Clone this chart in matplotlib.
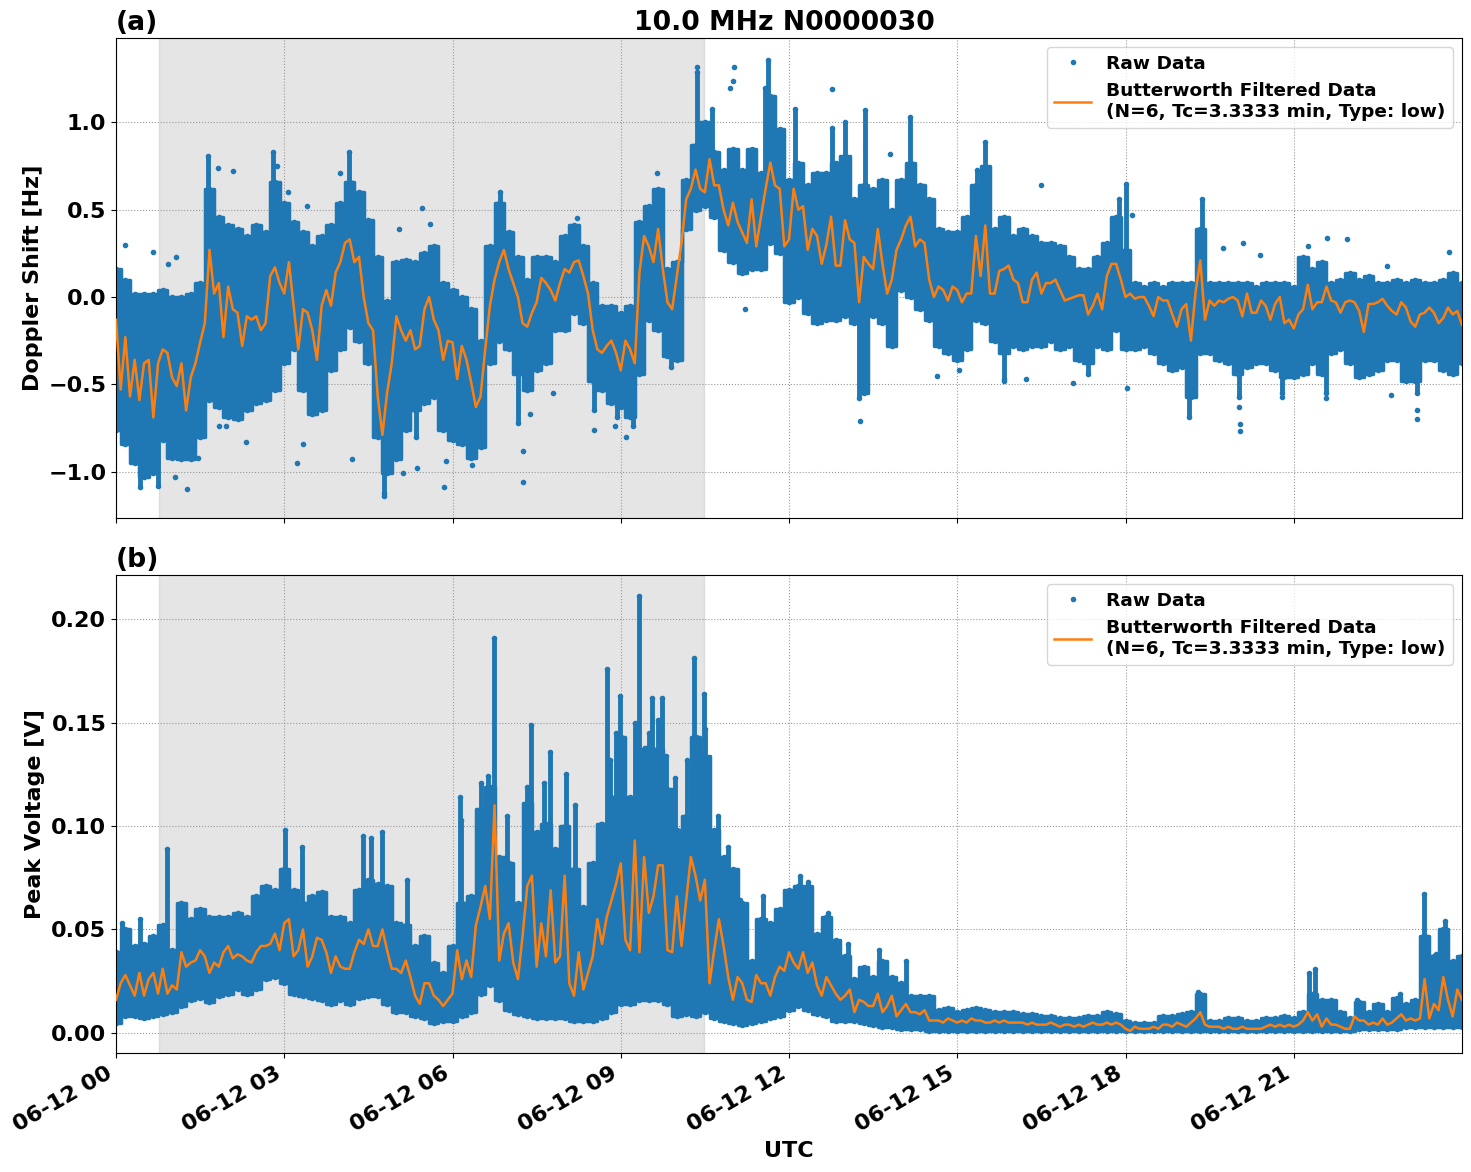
import numpy as np
import pandas as pd
import matplotlib
matplotlib.use("Agg")
import matplotlib.pyplot as plt
import matplotlib.dates as mdates

# values, raw envelope one sample every 10 minutes
doppler_hi = [
    .16, .10, .02, .02, .02, .04, 0, 0, .02, .08, .62, .46,
    .41, .39, .35, .41, .37, .66, .54, .43, .37, .29, .35, .41,
    .54, .66, .60, .44, .23, -.02, .20, .21, .20, .25, .29, .08,
    .04, 0, -.07, -.25, .29, .54, .37, .23, .10, .23, .23, .20,
    .35, .41, .29, .08, -.05, -.05, -.09, -.05, .43, .52, .62, .16,
    .20, .67, .87, 1.0, .83, .73, .85, .73, .85, .71, 1.15, .96,
    .67, .77, .64, .71, .71, .77, .81, .56, .64, .62, .67, .50,
    .67, .77, .64, .56, .39, .37, .37, .46, .64, .75, .39, .46,
    .35, .39, .35, .31, .31, .29, .23, .16, .16, .23, .31, .46,
    .27, .08, .06, .08, .06, .08, .08, .08, .39, .08, .08, .08,
    .08, .08, .06, .08, .08, .08, .06, .23, .16, .20, .08, .10,
    .14, .10, .12, .08, .08, .10, .08, .10, .08, .08, .10, .14,
    .08]
doppler_lo = [
    -.76, -.84, -.95, -1.03, -1.01, -.82, -.92, -.93, -.93, -.80, -.59, -.63,
    -.69, -.70, -.65, -.61, -.59, -.53, -.38, -.30, -.53, -.67, -.65, -.42,
    -.30, -.17, -.25, -.38, -.80, -1.01, -.93, -.76, -.65, -.61, -.57, -.76,
    -.82, -.84, -.92, -.86, -.38, -.25, -.30, -.44, -.53, -.42, -.38, -.19,
    -.19, -.09, -.15, -.48, -.53, -.61, -.63, -.69, -.44, -.13, -.19, -.34,
    -.36, .39, .50, .52, .46, .27, .20, .14, .16, .16, .31, .25,
    -.03, 0, -.09, -.15, -.13, -.13, -.11, -.15, -.55, -.11, -.15, -.28,
    .04, 0, -.07, -.13, -.28, -.32, -.36, -.30, -.13, -.15, -.25, -.32,
    -.28, -.30, -.28, -.28, -.25, -.30, -.28, -.36, -.38, -.28, -.30, -.19,
    -.30, -.30, -.28, -.32, -.38, -.42, -.40, -.57, -.32, -.32, -.36, -.38,
    -.44, -.40, -.38, -.38, -.42, -.46, -.46, -.44, -.38, -.44, -.32, -.30,
    -.38, -.46, -.44, -.42, -.36, -.36, -.48, -.48, -.36, -.36, -.42, -.44,
    -.38]

# filtered line, one sample every 5 minutes, 12 per row = one hour
doppler_filt = [
    -.13, -.53, -.23, -.57, -.36, -.59, -.38, -.36, -.69, -.38, -.30, -.32,
    -.46, -.51, -.38, -.65, -.46, -.38, -.26, -.15, .27, .02, .08, -.23,
    .06, -.07, -.09, -.28, -.11, -.13, -.11, -.19, -.15, .12, .17, .08,
    .02, .20, -.05, -.30, -.07, -.09, -.19, -.36, -.05, .04, -.05, .14,
    .20, .31, .33, .20, .23, 0, -.15, -.19, -.57, -.79, -.55, -.38,
    -.11, -.19, -.25, -.19, -.30, -.28, -.07, 0, -.13, -.19, -.36, -.25,
    -.26, -.47, -.28, -.36, -.49, -.63, -.57, -.30, -.05, .10, .20, .27,
    .16, .08, 0, -.15, -.17, -.09, -.03, .11, .08, .04, -.02, .08,
    .16, .14, .20, .21, .12, .02, -.19, -.30, -.32, -.28, -.25, -.32,
    -.42, -.25, -.30, -.38, .14, .35, .29, .20, .39, .16, -.03, -.07,
    .12, .31, .56, .62, .73, .62, .60, .79, .64, .64, .50, .41,
    .54, .43, .37, .31, .56, .29, .46, .62, .77, .64, .62, .29,
    .33, .62, .50, .52, .27, .39, .35, .19, .30, .46, .18, .18,
    .44, .33, .31, -.03, .23, .19, .16, .39, .19, .02, .10, .27,
    .33, .41, .46, .29, .33, .31, .10, 0, .06, .04, -.02, .06,
    .04, -.03, .02, .02, .35, .12, .41, .02, .02, .15, .16, .18,
    .10, .08, -.03, -.03, .10, .14, .02, .08, .08, .10, .04, -.02,
    -.01, 0, .01, .01, -.10, -.05, .02, -.07, .12, .19, .19, .10,
    0, .02, -.01, 0, 0, -.05, -.11, 0, -.02, -.02, -.10, -.17,
    -.07, -.04, -.25, .03, .21, -.13, -.02, -.05, -.02, -.03, -.01, 0,
    -.02, -.11, .02, -.09, -.09, -.02, -.05, -.13, -.04, 0, -.15, -.13,
    -.18, -.10, -.07, .07, -.07, -.03, -.03, .06, -.02, -.03, -.09, -.03,
    -.02, -.03, -.08, -.20, -.04, -.04, -.03, -.01, -.05, -.08, -.10, -.03,
    -.06, -.14, -.17, -.10, -.09, -.06, -.09, -.15, -.12, -.06, -.10, -.08,
    -.16]

voltage_hi = [
    .039, .050, .042, .043, .047, .052, .040, .063, .055, .060, .056, .056,
    .056, .058, .056, .066, .071, .069, .079, .069, .063, .066, .068, .056,
    .056, .053, .069, .074, .072, .071, .053, .052, .042, .047, .034, .029,
    .042, .063, .066, .108, .119, .085, .082, .063, .111, .097, .101, .089,
    .100, .079, .061, .082, .101, .114, .143, .114, .137, .138, .137, .118,
    .098, .105, .143, .134, .098, .085, .079, .063, .035, .055, .053, .060,
    .069, .071, .071, .048, .056, .045, .037, .026, .032, .027, .035, .027,
    .024, .018, .018, .018, .011, .012, .010, .011, .012, .011, .010, .010,
    .010, .009, .009, .008, .008, .007, .007, .007, .008, .008, .010, .009,
    .006, .005, .005, .005, .008, .008, .009, .010, .019, .006, .006, .007,
    .007, .006, .006, .007, .007, .008, .007, .010, .019, .016, .016, .010,
    .007, .015, .010, .014, .010, .017, .014, .016, .047, .037, .050, .035,
    .037]
voltage_lo = [
    .005, .008, .008, .007, .008, .009, .010, .013, .016, .017, .015, .018,
    .019, .021, .019, .021, .026, .027, .024, .019, .018, .017, .016, .014,
    .016, .014, .017, .018, .018, .014, .010, .010, .008, .007, .005, .006,
    .006, .008, .010, .019, .023, .016, .011, .009, .008, .007, .007, .007,
    .007, .006, .006, .006, .007, .010, .014, .014, .016, .016, .016, .014,
    .008, .009, .008, .010, .007, .006, .005, .004, .005, .006, .007, .008,
    .011, .013, .011, .009, .008, .006, .006, .006, .005, .004, .003, .003,
    .002, .002, .002, .001, .001, .001, .001, .001, .001, .001, .001, .001,
    .001, .001, .001, .001, .001, .001, .001, .001, .001, .001, .001, .001,
    .001, .001, .001, .001, .001, .001, .001, .001, .001, .001, .001, .001,
    .001, .001, .001, .001, .001, .001, .001, .001, .001, .001, .001, .001,
    .001, .002, .002, .002, .002, .002, .003, .003, .003, .003, .003, .003,
    .003]
voltage_filt = [
    .016, .024, .028, .023, .018, .029, .018, .026, .029, .019, .031, .019,
    .023, .021, .039, .032, .034, .035, .040, .037, .029, .034, .032, .039,
    .042, .036, .038, .037, .035, .034, .039, .042, .042, .043, .048, .040,
    .053, .055, .037, .040, .050, .032, .037, .046, .045, .039, .029, .037,
    .032, .031, .031, .039, .045, .043, .050, .042, .042, .050, .040, .031,
    .031, .029, .035, .027, .018, .014, .024, .024, .018, .016, .013, .016,
    .019, .040, .026, .035, .027, .052, .061, .071, .055, .110, .035, .048,
    .053, .034, .026, .047, .071, .076, .032, .053, .037, .069, .034, .037,
    .076, .024, .018, .039, .021, .029, .037, .055, .043, .056, .064, .072,
    .082, .045, .040, .093, .039, .085, .058, .066, .081, .081, .040, .039,
    .066, .042, .064, .085, .076, .064, .074, .024, .040, .055, .042, .027,
    .016, .027, .024, .016, .015, .028, .024, .024, .018, .027, .032, .030,
    .039, .034, .031, .039, .029, .034, .023, .018, .027, .023, .019, .016,
    .018, .021, .010, .016, .015, .013, .013, .019, .010, .013, .018, .008,
    .011, .014, .010, .010, .009, .011, .006, .006, .006, .005, .007, .006,
    .005, .006, .005, .007, .006, .006, .005, .005, .006, .005, .006, .005,
    .005, .005, .005, .004, .005, .004, .004, .004, .005, .004, .003, .004,
    .004, .003, .004, .003, .004, .005, .004, .004, .005, .004, .005, .004,
    .002, .001, .003, .002, .002, .002, .003, .002, .004, .004, .003, .005,
    .004, .003, .005, .007, .010, .004, .003, .003, .003, .002, .003, .002,
    .002, .003, .002, .002, .002, .002, .003, .004, .003, .004, .003, .004,
    .003, .004, .006, .010, .006, .009, .003, .007, .004, .004, .003, .002,
    .002, .008, .006, .006, .004, .005, .004, .007, .004, .005, .007, .009,
    .006, .007, .006, .007, .026, .007, .014, .011, .027, .016, .008, .021,
    .016]

# narrow streaks that rise out of the dense band
doppler_streak_t = [1.64, 2.8, 4.15, 6.84, 10.36, 10.62, 11.63, 11.58, 12.1, 12.77, 13.0, 13.35, 14.16, 15.5, 15.36,
                    13.25, 19.36, 19.14, 17.88, 18.0, 4.77, 0.43, 0.75, 9.9, 7.17, 8.53, 8.94, 9.22, 5.35,
                    15.83, 17.34, 20.02, 21.58, 20.79, 23.2]
doppler_streak_v = [.81, .83, .83, .60, 1.29, 1.08, 1.36, 1.2, 1.08, .97, 1.0, 1.07, 1.03, .89, .73,
                    -.58, .56, -.69, .56, .65, -1.14, -1.09, -1.08, -.40, -.72, -.65, -.69, -.74, -.80,
                    -.47, -.44, -.57, -.55, -.55, -.55]
doppler_out_t = [.16, .66, .93, 1.07, 1.82, 2.09, 2.87, 3.06, 3.40, 3.99, 5.04, 5.45, 5.59, 8.22, 9.65, 10.36,
                 11.02, 11.0, 10.94, 13.8, 16.49, 18.12, 19.74, 20.09, 20.4, 21.59, 21.95, 21.26, 22.67, 23.77,
                 1.26, 1.05, 1.47, 1.84, 1.96, 2.31, 3.23, 3.33, 4.2, 4.77, 5.12, 5.37, 5.84, 5.89, 6.34, 7.25, 7.25,
                 7.39, 7.79, 8.53, 9.09, 8.9, 11.22, 13.26, 14.64, 15.03, 15.83, 16.23, 17.07, 18.02, 20.02, 20.04,
                 20.04, 21.58, 20.79, 23.2, 23.2, 22.73, 12.77]
doppler_out_v = [.30, .26, .19, .23, .74, .72, .75, .60, .52, .71, .39, .51, .42, .45, .71, 1.32,
                 1.32, 1.24, 1.2, .82, .64, .47, .28, .31, .24, .34, .33, .29, .18, .26,
                 -1.10, -1.03, -.92, -.74, -.74, -.83, -.95, -.84, -.93, -1.12, -1.01, -.98, -1.09, -.94, -.96, -1.06,
                 -.88, -.67, -.55, -.76, -.80, -.74, -.07, -.71, -.45, -.42, -.48, -.47, -.49, -.52, -.63, -.73,
                 -.77, -.58, -.57, -.65, -.70, -.56, 1.19]

voltage_streak_t = [.91, .10, .43, 3.01, 3.32, 4.41, 4.54, 4.75, 5.18, 6.14, 6.74, 7.40, 7.74, 8.02, 8.19, 8.76,
                    8.99, 9.33, 9.56, 9.74, 10.31, 10.49, 10.74, 11.12, 11.53, 12.19, 12.34, 12.7, 13.06, 13.6, 14.08,
                    19.3, 21.37, 21.28, 23.33, 23.7, 23.53, 22.9, 22.13,
                    6.63, 6.51, 6.98, 7.33, 7.64, 7.95, 8.65, 8.81, 8.92, 9.26, 9.50, 9.67, 9.96, 10.18, 10.50, 10.92,
                    9.81, 6.16]
voltage_streak_v = [.089, .053, .055, .098, .090, .095, .094, .097, .074, .114, .191, .149, .136, .125, .110, .176,
                    .163, .211, .162, .162, .181, .164, .105, .064, .066, .076, .073, .058, .043, .040, .035,
                    .020, .031, .029, .067, .054, .038, .019, .016,
                    .124, .121, .105, .119, .121, .098, .101, .132, .145, .150, .145, .151, .123, .132, .147, .090,
                    .134, .103]

tick_hours = [0, 3, 6, 9, 12, 15, 18, 21]
doppler_ticks = [-1.0, -0.5, 0.0, 0.5, 1.0]
voltage_ticks = [0.00, 0.05, 0.10, 0.15, 0.20]

BLUE = "tab:blue"
ORANGE = "tab:orange"
BASE = pd.Timestamp("2024-06-12")
W, H = 1471, 1172
FILTER_LABEL = "Butterworth Filtered Data\n(N=6, Tc=3.3333 min, Type: low)"


def to_time(hours):
    return BASE + pd.to_timedelta(np.asarray(hours, dtype=float), unit="h")


def panel(ax, hi, lo, filt, streak_t, streak_v, out_t=(), out_v=()):
    times = to_time(np.arange(len(hi)) / 6)
    filt_times = to_time(np.arange(len(filt)) / 12)
    filt = np.array(filt)

    ax.axvspan(to_time(0.76), to_time(10.49), color="0.5", alpha=0.2, zorder=0)
    ax.fill_between(times, lo, hi, step="mid", color=BLUE, lw=2.5, zorder=2)
    ax.plot(times, hi, ".", color=BLUE, zorder=2, label="Raw Data")
    ax.plot(times, lo, ".", color=BLUE, zorder=2)

    # streaks start from the filtered line at the nearest sample
    base = filt[np.rint(np.array(streak_t) * 12).astype(int)]
    ax.vlines(to_time(streak_t), base, streak_v, color=BLUE, lw=3.5, zorder=2)
    ax.plot(to_time(streak_t), streak_v, ".", color=BLUE, zorder=2)
    if len(out_t):
        ax.plot(to_time(out_t), out_v, ".", color=BLUE, zorder=2)

    ax.plot(filt_times, filt, color=ORANGE, lw=1.8, zorder=3, label=FILTER_LABEL)

    ax.set_xlim(to_time(0), to_time(24))
    ax.set_xticks(to_time(tick_hours))
    ax.xaxis.set_major_formatter(mdates.DateFormatter("%m-%d %H"))
    ax.grid(True, ls=":", color="#999999", lw=0.8, zorder=1)
    ax.set_axisbelow(True)
    ax.tick_params(labelsize=16)
    for lab in ax.get_xticklabels():
        lab.set_fontweight("bold")
    ax.legend(loc="upper right", prop={"weight": "bold", "size": 13.3})


fig = plt.figure(figsize=(W / 100, H / 100), dpi=100)
ax_a = fig.add_axes([116 / W, 1 - 518 / H, 1346 / W, 480 / H])
ax_b = fig.add_axes([116 / W, 1 - 1053 / H, 1346 / W, 478 / H])

panel(ax_a, doppler_hi, doppler_lo, doppler_filt, doppler_streak_t, doppler_streak_v, doppler_out_t, doppler_out_v)
panel(ax_b, voltage_hi, voltage_lo, voltage_filt, voltage_streak_t, voltage_streak_v)

ax_a.set_ylim(-1.266, 1.484)
ax_a.set_yticks(doppler_ticks)
ax_b.set_ylim(-0.0097, 0.2213)
ax_b.set_yticks(voltage_ticks)
for ax in (ax_a, ax_b):
    for lab in ax.get_yticklabels():
        lab.set_fontweight("bold")

ax_a.set_title("(a)", loc="left", fontsize=19.2, fontweight="bold")
ax_a.set_title("10.0 MHz N0000030", fontsize=19.2, fontweight="bold", x=0.4963)
ax_b.set_title("(b)", loc="left", fontsize=19.2, fontweight="bold")
ax_a.set_ylabel("Doppler Shift [Hz]", fontsize=16, fontweight="bold")
ax_b.set_ylabel("Peak Voltage [V]", fontsize=16, fontweight="bold")
ax_b.set_xlabel("UTC", fontsize=16, fontweight="bold")

ax_a.tick_params(labelbottom=False)
plt.setp(ax_b.get_xticklabels(), rotation=30, ha="right")

fig.savefig("out.png", dpi=100)
